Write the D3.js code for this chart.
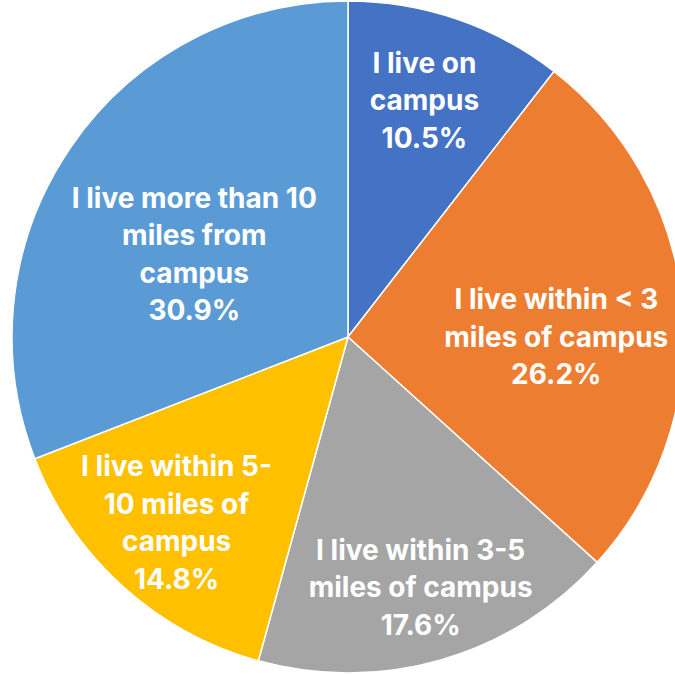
<!DOCTYPE html>
<html>
<head>
<meta charset="utf-8">
<script src="https://cdn.jsdelivr.net/npm/d3@7"></script>
<style>
  html, body { margin: 0; padding: 0; background: #fff; overflow: hidden; }
  svg { display: block; }
</style>
</head>
<body>
<script>
'use strict';

// chart data
const categories = [
  "I live on campus",
  "I live within < 3 miles of campus",
  "I live within 3-5 miles of campus",
  "I live within 5-10 miles of campus",
  "I live more than 10 miles from campus"
];
// label text as it wraps in the picture
const labelLines = [
  ["I live on", "campus"],
  ["I live within < 3", "miles of campus"],
  ["I live within 3-5", "miles of campus"],
  ["I live within 5-", "10 miles of", "campus"],
  ["I live more than 10", "miles from", "campus"]
];
const percents = [10.5, 26.2, 17.6, 14.8, 30.9];
const colors = ["#4472C4", "#ED7D31", "#A5A5A5", "#FFC000", "#5B9BD5"];

(function() {
  const width = 675, height = 674;
  const cx = 348, cy = 337, radius = 336;

  // where each label sits: fraction of radius, angle tweak in degrees ("best fit")
  const labelRadius = [0.74, 0.62, 0.775, 0.752, 0.52];
  const labelTurn = [-1, 5, 0, 0.6, -6];
  const lineHeight = 37.5;

  const svg = d3.select('body')
    .append('svg')
    .attr('width', width)
    .attr('height', height);

  const g = svg.append('g')
    .attr('transform', `translate(${cx}, ${cy})`);

  const rows = categories.map((c, i) => ({ name: c, value: percents[i], lines: labelLines[i], i: i }));

  const pie = d3.pie()
    .value(d => d.value)
    .sort(null);

  const arc = d3.arc()
    .innerRadius(0)
    .outerRadius(radius);

  const arcs = pie(rows);

  g.selectAll('path.slice')
    .data(arcs)
    .enter()
    .append('path')
    .attr('class', 'slice')
    .attr('d', arc)
    .style('fill', d => colors[d.data.i])
    .style('stroke', '#fff')
    .style('stroke-width', 1.5);

  // labels
  const labels = g.selectAll('text.label')
    .data(arcs)
    .enter()
    .append('text')
    .attr('class', 'label')
    .attr('transform', d => {
      let a = (d.startAngle + d.endAngle) / 2 + labelTurn[d.data.i] * Math.PI / 180;
      let r = radius * labelRadius[d.data.i];
      return `translate(${r * Math.sin(a)}, ${-r * Math.cos(a)})`;
    })
    .attr('text-anchor', 'middle')
    .style('font-family', 'Inter, Roboto, sans-serif')
    .style('font-weight', 700)
    .style('font-size', '28px')
    .style('fill', '#fff');

  labels.each(function(d) {
    const allLines = d.data.lines.concat([d.data.value.toFixed(1) + '%']);
    const n = allLines.length;
    const t = d3.select(this);
    allLines.forEach((line, k) => {
      t.append('tspan')
        .attr('x', 0)
        .attr('y', (k - (n - 1) / 2) * lineHeight)
        .attr('dy', '0.36em')
        .text(line);
    });
  });
})();
</script>
</body>
</html>
